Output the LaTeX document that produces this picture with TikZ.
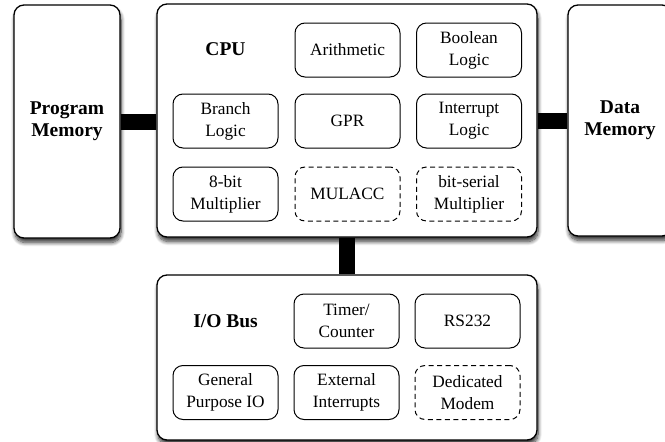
\documentclass[tikz,border=0pt]{standalone}
\usepackage{fontspec}
\setmainfont{Liberation Serif}
\usetikzlibrary{shadows.blur}
\begin{document}
\begin{tikzpicture}[x=1pt,y=-1pt,
  outer/.style={draw=black, line width=1.3pt, fill=white, rounded corners=10pt,
    inner sep=0pt, align=center, font=\fontsize{19.5}{22}\selectfont\bfseries,
    blur shadow={shadow xshift=1pt, shadow yshift=-4.5pt, shadow blur steps=10, shadow opacity=80, shadow blur radius=4pt}},
  unit/.style={draw=black, line width=1pt, fill=white, rounded corners=10pt,
    minimum width=105pt, minimum height=54pt, inner sep=0pt, align=center,
    font=\fontsize{17.3}{21.8}\selectfont},
  opt/.style={unit, dash pattern=on 5pt off 3.5pt},
  label/.style={inner sep=0pt, font=\fontsize{19.5}{22}\selectfont\bfseries},
  bus/.style={line width=16pt, line cap=butt}]
\useasboundingbox (0,0) rectangle (665,442);
% outer blocks
\node[outer, minimum width=106pt, minimum height=233pt] (pm) at (67,121.5) {Program\\Memory};
\node[outer, minimum width=380pt, minimum height=233pt] (cpu) at (347,120.5) {};
\node[outer, minimum width=104pt, minimum height=231pt] (dm) at (620,120.5) {Data\\Memory};
\node[outer, minimum width=380pt, minimum height=165pt] (io) at (347,357.5) {};
% buses
\draw[bus] (pm.east) -- (pm.east -| cpu.west);
\draw[bus] (cpu.east |- dm.west) -- (dm.west);
\draw[bus] (cpu.south) -- (io.north);
% CPU contents
\node[label] (cpulbl) at (225.5,49) {CPU};
\node[unit] (arith) at (347.5,50) {Arithmetic};
\node[unit] (bool) at (469,50) {Boolean\\Logic};
\node[unit] (branch) at (225.5,121) {Branch\\Logic};
\node[unit] (gpr) at (347.5,121) {GPR};
\node[unit] (intr) at (469,121) {Interrupt\\Logic};
\node[unit] (mul8) at (225.5,194) {8-bit\\Multiplier};
\node[opt] (mulacc) at (347.5,194) {MULACC};
\node[opt] (bsmul) at (469,194) {bit-serial\\Multiplier};
% I/O contents
\node[label] (iolbl) at (225.5,321) {I/O Bus};
\node[unit] (timer) at (346.5,321) {Timer/\\Counter};
\node[unit] (rs) at (467.5,321) {RS232};
\node[unit] (gpio) at (225.5,392.5) {General\\Purpose IO};
\node[unit] (ext) at (346.5,392.5) {External\\Interrupts};
\node[opt] (modem) at (467.5,392.5) {Dedicated\\Modem};
\end{tikzpicture}
\end{document}
